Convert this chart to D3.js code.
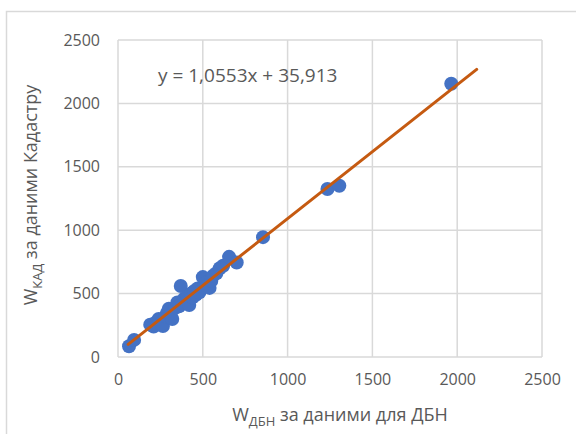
<!DOCTYPE html>
<html>
<head>
<meta charset="utf-8">
<script src="https://cdn.jsdelivr.net/npm/d3@7"></script>
<style>
  body { margin: 0; background: #fff; }
  text { font-family: 'Open Sans', 'Noto Sans', sans-serif; fill: #595959; }
</style>
</head>
<body>
<div id="chart"></div>
<script>
// Values
var xValues = [65, 95, 190, 210, 225, 240, 255, 265, 280, 290, 300, 310, 320, 340, 350, 360, 370, 380, 390, 400,
  410, 420, 430, 440, 450, 460, 470, 480, 500, 510, 520, 540, 550, 560, 580, 600, 620, 655, 700, 855, 1235, 1305, 1965];
var yValues = [85, 135, 255, 240, 275, 300, 265, 245, 320, 350, 380, 340, 300, 390, 430, 400, 560, 420, 460, 440,
  480, 410, 500, 470, 520, 490, 540, 510, 630, 570, 590, 545, 600, 640, 660, 700, 720, 790, 745, 945, 1325, 1350, 2155];
var slope = 1.0553;
var intercept = 35.913;
var trendX = [60, 2115];
var tickValues = [0, 500, 1000, 1500, 2000, 2500];
var equationLabel = 'y = 1,0553x + 35,913';

var svgWidth = 576;
var svgHeight = 434;

var margin = { top: 40, right: 34, bottom: 77, left: 118 };
var width = svgWidth - margin.left - margin.right;
var height = svgHeight - margin.top - margin.bottom;

var svg = d3.select('#chart')
  .append('svg')
  .attr('width', svgWidth)
  .attr('height', svgHeight);

// outer chart frame
svg.append('rect')
  .attr('x', 6.5)
  .attr('y', 11.5)
  .attr('width', 700)
  .attr('height', 500)
  .attr('fill', 'none')
  .attr('stroke', '#d9d9d9')
  .attr('stroke-width', 1.5);

var chartGroup = svg.append('g')
  .attr('transform', `translate(${margin.left}, ${margin.top})`);

var xScale = d3.scaleLinear().domain([0, 2500]).range([0, width]);
var yScale = d3.scaleLinear().domain([0, 2500]).range([height, 0]);

// gridlines
chartGroup.append('g')
  .selectAll('line')
  .data(tickValues)
  .enter()
  .append('line')
  .attr('x1', d => xScale(d))
  .attr('x2', d => xScale(d))
  .attr('y1', 0)
  .attr('y2', height)
  .attr('stroke', '#d9d9d9')
  .attr('stroke-width', 1.5);

chartGroup.append('g')
  .selectAll('line')
  .data(tickValues)
  .enter()
  .append('line')
  .attr('x1', 0)
  .attr('x2', width)
  .attr('y1', d => yScale(d))
  .attr('y2', d => yScale(d))
  .attr('stroke', '#d9d9d9')
  .attr('stroke-width', 1.5);

var bottomAxis = d3.axisBottom(xScale).tickValues(tickValues).tickFormat(d3.format('d')).tickSize(0).tickPadding(17);
var leftAxis = d3.axisLeft(yScale).tickValues(tickValues).tickFormat(d3.format('d')).tickSize(0).tickPadding(18);

var xAxisG = chartGroup.append('g')
  .attr('transform', `translate(0, ${height})`)
  .call(bottomAxis);
var yAxisG = chartGroup.append('g').call(leftAxis);

[xAxisG, yAxisG].forEach(function(g) {
  g.select('.domain').remove();
  g.selectAll('text')
    .attr('fill', '#595959')
    .style('font-size', '16px');
});

// points
var points = xValues.map((x, i) => ({ x: x, y: yValues[i] }));

chartGroup.selectAll('circle')
  .data(points)
  .enter()
  .append('circle')
  .attr('cx', d => xScale(d.x))
  .attr('cy', d => yScale(d.y))
  .attr('r', 7)
  .attr('fill', '#4472c4');

// linear trendline
var trendLine = d3.line()
  .x(d => xScale(d))
  .y(d => yScale(slope * d + intercept));

chartGroup.append('path')
  .datum(trendX)
  .attr('d', trendLine)
  .attr('fill', 'none')
  .attr('stroke', '#c55a11')
  .attr('stroke-width', 3)
  .attr('stroke-linecap', 'round');

chartGroup.append('text')
  .attr('x', 40)
  .attr('y', 42)
  .style('font-size', '19px')
  .attr('fill', '#404040')
  .text(equationLabel);

// axis titles
var xTitle = svg.append('text')
  .attr('x', 340)
  .attr('y', 421)
  .attr('text-anchor', 'middle')
  .style('font-size', '18px');
xTitle.append('tspan').text('W');
xTitle.append('tspan').attr('dy', 5).style('font-size', '13px').text('ДБН');
xTitle.append('tspan').attr('dy', -5).text(' за даними для ДБН');

var yTitle = svg.append('text')
  .attr('transform', 'translate(37, 195) rotate(-90)')
  .attr('text-anchor', 'middle')
  .style('font-size', '18px');
yTitle.append('tspan').text('W');
yTitle.append('tspan').attr('dy', 5).style('font-size', '13px').text('КАД');
yTitle.append('tspan').attr('dy', -5).text(' за даними Кадастру');
</script>
</body>
</html>
